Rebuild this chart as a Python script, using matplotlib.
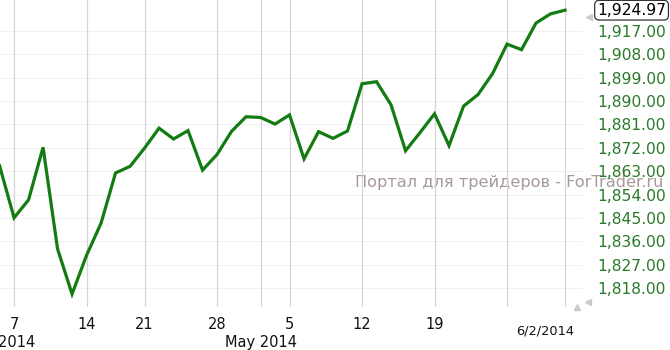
import numpy as np
import matplotlib.pyplot as plt

# S&P 500 daily closes, 4 Apr 2014 - 2 Jun 2014 (trading days only)
dates = ["4/4", "4/7", "4/8", "4/9", "4/10", "4/11", "4/14", "4/15", "4/16", "4/17",
         "4/21", "4/22", "4/23", "4/24", "4/25", "4/28", "4/29", "4/30", "5/1", "5/2",
         "5/5", "5/6", "5/7", "5/8", "5/9", "5/12", "5/13", "5/14", "5/15", "5/16",
         "5/19", "5/20", "5/21", "5/22", "5/23", "5/27", "5/28", "5/29", "5/30", "6/2"]
closes = [1865.09, 1845.04, 1851.96, 1872.18, 1833.08, 1815.69, 1830.61, 1842.98, 1862.31, 1864.85,
          1871.89, 1879.55, 1875.39, 1878.61, 1863.40, 1869.43, 1878.33, 1883.95, 1883.68, 1881.14,
          1884.66, 1867.72, 1878.21, 1875.63, 1878.48, 1896.65, 1897.45, 1888.53, 1870.85, 1877.86,
          1885.08, 1872.83, 1888.03, 1892.49, 1900.53, 1911.91, 1909.78, 1920.03, 1923.57, 1924.97]

week_ticks = ["4/7", "4/14", "4/21", "4/28", "5/5", "5/12", "5/19"]
week_labels = ["7", "14", "21", "28", "5", "12", "19"]
extra_lines = ["5/1", "5/27", "6/2"]
y_ticks = [1818, 1827, 1836, 1845, 1854, 1863, 1872, 1881, 1890, 1899, 1908, 1917]

x = np.arange(len(closes))
idx = {d: i for i, d in enumerate(dates)}

fig = plt.figure(figsize=(6.7, 3.5), dpi=100)
ax = fig.add_axes([0, 43/350, 583/670, 307/350])

for s in ax.spines.values():
    s.set_visible(False)

for yt in y_ticks:
    ax.axhline(yt, color="#f1f1f1", lw=0.8, zorder=0)
for d in week_ticks + extra_lines:
    ax.axvline(idx[d], color="#d6d6d6", lw=0.9, zorder=1)

ax.plot(x, closes, color="#127c12", lw=2.3, solid_joinstyle="miter", zorder=3)

ax.set_xlim(0.03, 40.24)
ax.set_ylim(1810.7, 1928.9)

ax.set_xticks([idx[d] for d in week_ticks])
ax.set_xticklabels(week_labels, fontsize=10.5, color="#111111")
ax.tick_params(axis="x", length=0, pad=7)

ax.yaxis.tick_right()
ax.set_yticks(y_ticks)
ax.set_yticklabels([f"{v:,.2f}" for v in y_ticks], fontsize=11.2, color="#2a7a2a")
ax.tick_params(axis="y", length=0, pad=10)

trans = ax.get_xaxis_transform()
ax.text(2.45, -0.117, "Apr 2014", transform=trans, ha="right", va="center",
        fontsize=10.5, color="#111111", clip_on=False)
ax.text(idx["5/1"], -0.117, "May 2014", transform=trans, ha="center", va="center",
        fontsize=10.5, color="#111111", clip_on=False)
ax.text(37.6, -0.078, "6/2/2014", transform=trans, ha="center", va="center",
        fontsize=9.3, color="#111111", clip_on=False)

# watermark
ax.text(663 / 583, 1858.5, "Портал для трейдеров - ForTrader.ru",
        transform=ax.get_yaxis_transform(), ha="right", va="center",
        fontsize=11.6, color="#a89a9a", zorder=0, clip_on=False)

# last price box
ax.text(1.024, closes[-1], f"{closes[-1]:,.2f}", transform=ax.get_yaxis_transform(),
        ha="left", va="center", fontsize=11.2, color="#000000", clip_on=False,
        bbox=dict(boxstyle="round,pad=0.15,rounding_size=0.3", fc="white", ec="#333333", lw=0.9))

# little scroll arrows
ax.plot([1.01], [closes[-1] - 2.6], marker="<", ms=4, color="#cccccc",
        transform=ax.get_yaxis_transform(), clip_on=False)
ax.plot([577 / 583], [0.0], marker="^", ms=4, color="#cccccc",
        transform=ax.transAxes, clip_on=False)
ax.plot([588 / 583], [0.016], marker="<", ms=4, color="#cccccc",
        transform=ax.transAxes, clip_on=False)

fig.savefig("out.png", dpi=100)
